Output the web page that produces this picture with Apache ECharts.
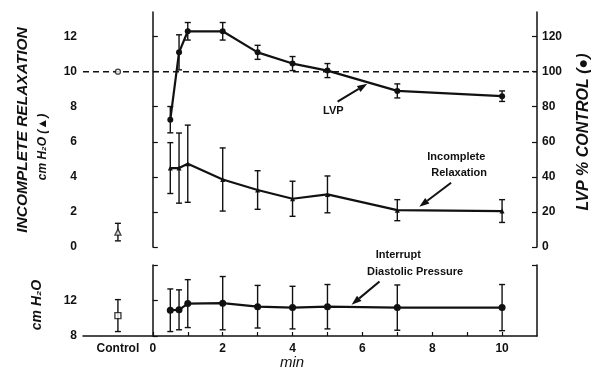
<!DOCTYPE html>
<html>
<head>
<meta charset="utf-8">
<script src="https://cdn.jsdelivr.net/npm/echarts@6/dist/echarts.min.js"></script>
<style>
  html, body { margin: 0; padding: 0; background: #fff; }
  #chart { width: 591px; height: 373px; }
</style>
</head>
<body>
<div id="chart"></div>
<script>
// minutes after start
const times = [0.5, 0.75, 1, 2, 3, 4, 5, 7, 10]
const controlX = -1

// LVP, % of control (right axis)
const lvpMean = [72.6, 111, 123, 123, 111, 104.6, 100.6, 89, 86]
const lvpErr = [7.5, 10, 5, 5, 4, 4, 4, 4, 3]
const lvpControl = 100

// incomplete relaxation, cm H2O (left axis)
const irMean = [4.5, 4.5, 4.75, 3.85, 3.25, 2.75, 3.0, 2.1, 2.05]
const irErr = [1.45, 2.0, 2.2, 1.8, 1.1, 1.0, 1.05, 0.6, 0.65]
const irControl = 0.85
const irControlErr = 0.5

// interrupt diastolic pressure, cm H2O (lower panel)
const idpMean = [10.9, 10.95, 11.65, 11.7, 11.3, 11.2, 11.3, 11.2, 11.2]
const idpErr = [2.4, 2.25, 2.7, 3.0, 2.4, 2.4, 2.5, 2.55, 2.6]
const idpControl = 10.3
const idpControlErr = 1.8

const leftTicks = [0, 2, 4, 6, 8, 10, 12]
const rightTicks = [0, 20, 40, 60, 80, 100, 120]
const lowTicks = [8, 12]
const xLabels = [-1, 0, 2, 4, 6, 8, 10]

const ink = '#111'
const font = 'Liberation Sans'

const chart = echarts.init(document.getElementById('chart'))

function pts(xs, ys) {
  return xs.map((x, i) => [x, ys[i]])
}
function bars(xs, ys, es) {
  return xs.map((x, i) => [x, ys[i] - es[i], ys[i] + es[i]])
}
function errorBars(xi, yi, data) {
  return {
    type: 'custom',
    xAxisIndex: xi,
    yAxisIndex: yi,
    data: data,
    z: 3,
    renderItem: function (params, api) {
      const lo = api.coord([api.value(0), api.value(1)])
      const hi = api.coord([api.value(0), api.value(2)])
      const w = 3
      const st = { stroke: ink, lineWidth: 1.4 }
      return {
        type: 'group',
        children: [
          { type: 'line', shape: { x1: lo[0], y1: lo[1], x2: hi[0], y2: hi[1] }, style: st },
          { type: 'line', shape: { x1: lo[0] - w, y1: lo[1], x2: lo[0] + w, y2: lo[1] }, style: st },
          { type: 'line', shape: { x1: hi[0] - w, y1: hi[1], x2: hi[0] + w, y2: hi[1] }, style: st }
        ]
      }
    }
  }
}

const tickLabel = { color: ink, fontFamily: font, fontWeight: 'bold', fontSize: 12 }

const option = {
  animation: false,
  backgroundColor: '#fff',
  grid: [
    { left: 83, right: 54, top: 12, bottom: 126 },
    { left: 83, right: 54, top: 265, bottom: 37 }
  ],
  xAxis: [
    { type: 'value', gridIndex: 0, min: -2, max: 11, show: false },
    {
      type: 'value', gridIndex: 1, min: -2, max: 11,
      axisLine: { lineStyle: { color: ink, width: 1.5 } },
      axisTick: { inside: true, length: 4, customValues: [0, 1, 2, 3, 4, 5, 6, 7, 8, 9, 10], lineStyle: { color: ink, width: 1.2 } },
      axisLabel: Object.assign({}, tickLabel, {
        margin: 7,
        customValues: xLabels,
        formatter: v => (v === controlX ? 'Control' : String(v))
      }),
      splitLine: { show: false }
    }
  ],
  yAxis: [
    {
      type: 'value', gridIndex: 0, position: 'left', min: 0, max: 13.4,
      axisLine: { show: true, lineStyle: { color: ink, width: 1.5 } },
      axisTick: { show: true, inside: true, length: 5, customValues: leftTicks, lineStyle: { color: ink, width: 1.2 } },
      axisLabel: Object.assign({}, tickLabel, { margin: 6, customValues: leftTicks }),
      splitLine: { show: false }
    },
    {
      type: 'value', gridIndex: 0, position: 'right', min: 0, max: 134,
      axisLine: { show: true, lineStyle: { color: ink, width: 1.5 } },
      axisTick: { show: true, inside: true, length: 5, customValues: rightTicks, lineStyle: { color: ink, width: 1.2 } },
      axisLabel: Object.assign({}, tickLabel, { margin: 5, customValues: rightTicks }),
      splitLine: { show: false }
    },
    {
      type: 'value', gridIndex: 1, position: 'left', min: 8, max: 16,
      axisLine: { show: true, lineStyle: { color: ink, width: 1.5 } },
      axisTick: { show: true, inside: true, length: 5, customValues: [8, 12, 16], lineStyle: { color: ink, width: 1.2 } },
      axisLabel: Object.assign({}, tickLabel, { margin: 6, customValues: lowTicks }),
      splitLine: { show: false }
    },
    {
      type: 'value', gridIndex: 1, position: 'right', min: 8, max: 16,
      axisLine: { show: true, lineStyle: { color: ink, width: 1.5 } },
      axisTick: { show: true, inside: true, length: 5, customValues: [16], lineStyle: { color: ink, width: 1.2 } },
      axisLabel: { show: false },
      splitLine: { show: false }
    }
  ],
  series: [
    {
      name: 'control 100%', type: 'line', xAxisIndex: 0, yAxisIndex: 1,
      data: [[-2, lvpControl], [11, lvpControl]], symbol: 'none',
      lineStyle: { color: ink, width: 1.5, type: [6, 4] }
    },
    {
      name: 'LVP', type: 'line', xAxisIndex: 0, yAxisIndex: 1,
      data: pts(times, lvpMean), symbol: 'circle', symbolSize: 6, z: 4,
      itemStyle: { color: ink }, lineStyle: { color: ink, width: 2.2 }
    },
    errorBars(0, 1, bars(times, lvpMean, lvpErr)),
    {
      name: 'LVP control', type: 'scatter', xAxisIndex: 0, yAxisIndex: 1,
      data: [[controlX, lvpControl]], symbol: 'circle', symbolSize: 5, z: 5,
      itemStyle: { color: '#fff', borderColor: ink, borderWidth: 1.3 }
    },
    {
      name: 'Incomplete Relaxation', type: 'line', xAxisIndex: 0, yAxisIndex: 0,
      data: pts(times, irMean), symbol: 'triangle', symbolSize: 5, z: 4,
      itemStyle: { color: ink }, lineStyle: { color: ink, width: 2.2 }
    },
    errorBars(0, 0, bars(times, irMean, irErr)),
    errorBars(0, 0, [[controlX, irControl - irControlErr, irControl + irControlErr]]),
    {
      name: 'IR control', type: 'scatter', xAxisIndex: 0, yAxisIndex: 0,
      data: [[controlX, irControl]], symbol: 'triangle', symbolSize: 6, z: 5,
      itemStyle: { color: '#fff', borderColor: ink, borderWidth: 1.3 }
    },
    {
      name: 'Interrupt Diastolic Pressure', type: 'line', xAxisIndex: 1, yAxisIndex: 2,
      data: pts(times, idpMean), symbol: 'circle', symbolSize: 7, z: 4,
      itemStyle: { color: ink }, lineStyle: { color: ink, width: 2.2 }
    },
    errorBars(1, 2, bars(times, idpMean, idpErr)),
    errorBars(1, 2, [[controlX, idpControl - idpControlErr, idpControl + idpControlErr]]),
    {
      name: 'IDP control', type: 'scatter', xAxisIndex: 1, yAxisIndex: 2,
      data: [[controlX, idpControl]], symbol: 'rect', symbolSize: 6, z: 5,
      itemStyle: { color: '#fff', borderColor: ink, borderWidth: 1.4 }
    }
  ]
}

chart.setOption(option)

// annotations, placed in data coords
const upper = { xAxisIndex: 0, yAxisIndex: 0 }
const lower = { xAxisIndex: 1, yAxisIndex: 2 }
const px = (f, p) => chart.convertToPixel(f, p)

function arrow(a, b) {
  const dx = b[0] - a[0], dy = b[1] - a[1]
  const len = Math.sqrt(dx * dx + dy * dy)
  const ux = dx / len, uy = dy / len
  const hl = 10, hw = 3.5
  const base = [b[0] - ux * hl, b[1] - uy * hl]
  return [
    { type: 'line', shape: { x1: a[0], y1: a[1], x2: base[0], y2: base[1] }, style: { stroke: ink, lineWidth: 2 } },
    {
      type: 'polygon',
      shape: { points: [b, [base[0] - uy * hw, base[1] + ux * hw], [base[0] + uy * hw, base[1] - ux * hw]] },
      style: { fill: ink }
    }
  ]
}
function note(p, text) {
  return {
    type: 'text', x: p[0], y: p[1],
    style: { text: text, fill: ink, font: 'bold 11px "' + font + '"', align: 'center', verticalAlign: 'middle' }
  }
}
function title(x, y, text, size, rot, italic) {
  return {
    type: 'text', x: x, y: y, rotation: rot,
    style: {
      text: text, fill: ink, align: 'center', verticalAlign: 'middle',
      font: (italic ? 'italic ' : '') + 'bold ' + size + 'px "' + font + '"'
    }
  }
}

const graphics = []
  .concat(arrow(px(upper, [5.29, 8.29]), px(upper, [6.14, 9.31])))
  .concat([note(px(upper, [5.17, 7.77]), 'LVP')])
  .concat(arrow(px(upper, [8.54, 3.66]), px(upper, [7.63, 2.29])))
  .concat([note(px(upper, [8.69, 5.14]), 'Incomplete'), note(px(upper, [8.77, 4.23]), 'Relaxation')])
  .concat(arrow(px(lower, [6.49, 14.14]), px(lower, [5.69, 11.52])))
  .concat([note(px(lower, [7.03, 17.09]), 'Interrupt'), note(px(lower, [7.51, 15.16]), 'Diastolic Pressure')])
  .concat([
    title(23, 130, 'INCOMPLETE RELAXATION', 15.5, Math.PI / 2, true),
    title(43, 147, 'cm H\u2082O (\u25B2)', 12, Math.PI / 2, true),
    title(584, 132, 'LVP % CONTROL (\u25CF)', 16, Math.PI / 2, true),
    title(37, 305, 'cm H\u2082O', 14, Math.PI / 2, true),
    {
      type: 'text', x: 292, y: 363,
      style: { text: 'min', fill: ink, align: 'center', verticalAlign: 'middle', font: 'italic 15px "' + font + '"' }
    }
  ])

chart.setOption({ graphic: graphics })
</script>
</body>
</html>
